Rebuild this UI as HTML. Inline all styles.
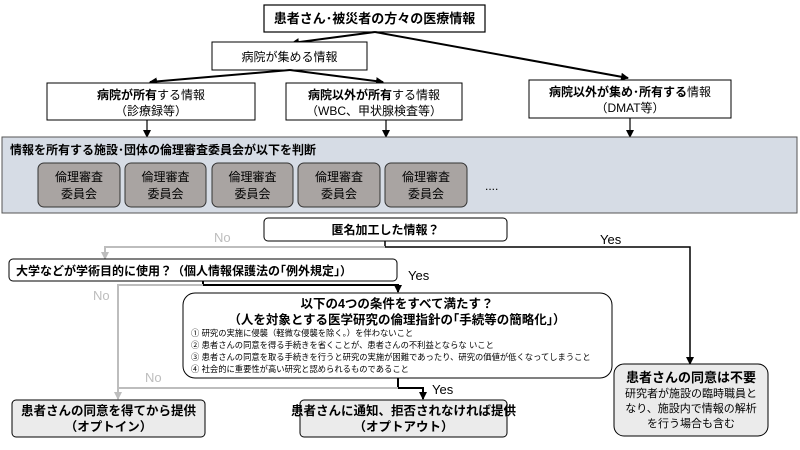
<!DOCTYPE html>
<html><head><meta charset="utf-8"><style>
body{margin:0;background:#fff}
svg{display:block}
text{font-family:"Liberation Sans","Noto Sans CJK JP",sans-serif;fill:#000}
.b{font-weight:bold}
</style></head><body>
<svg width="800" height="450" viewBox="0 0 800 450" xmlns="http://www.w3.org/2000/svg">
<defs>
<marker id="a" markerWidth="8" markerHeight="8" refX="7" refY="4" orient="auto" markerUnits="userSpaceOnUse"><path d="M0,0 L8,4 L0,8 z" fill="#000"/></marker>
<marker id="g" markerWidth="8" markerHeight="8" refX="7" refY="4" orient="auto" markerUnits="userSpaceOnUse"><path d="M0,0 L8,4 L0,8 z" fill="#bdbdbd"/></marker>
</defs>
<!-- top -->
<rect x="264" y="5" width="221" height="27" fill="#fff" stroke="#000" stroke-width="1.2"/>
<text x="374.5" y="23" font-size="13" class="b" text-anchor="middle">患者さん･被災者の方々の医療情報</text>
<line x1="375" y1="32" x2="292" y2="43" stroke="#000" stroke-width="2" marker-end="url(#a)"/>
<line x1="375" y1="32" x2="628" y2="78" stroke="#000" stroke-width="2" marker-end="url(#a)"/>
<rect x="212" y="42" width="155" height="28" fill="#fff" stroke="#000"/>
<text x="289.5" y="61" font-size="12" text-anchor="middle">病院が集める情報</text>
<line x1="290" y1="70" x2="150" y2="82" stroke="#000" stroke-width="2" marker-end="url(#a)"/>
<line x1="290" y1="70" x2="383" y2="82" stroke="#000" stroke-width="2" marker-end="url(#a)"/>
<rect x="47" y="83" width="208" height="37" fill="#fff" stroke="#000"/>
<text x="151" y="99" font-size="12" text-anchor="middle"><tspan class="b">病院が所有</tspan>する情報</text>
<text x="151" y="115" font-size="12" text-anchor="middle">（診療録等）</text>
<rect x="286" y="83" width="176" height="37" fill="#fff" stroke="#000"/>
<text x="374" y="99" font-size="12" text-anchor="middle"><tspan class="b">病院以外が所有</tspan>する情報</text>
<text x="374" y="115" font-size="12" text-anchor="middle">（WBC、甲状腺検査等）</text>
<rect x="529" y="80" width="202" height="38" fill="#fff" stroke="#000"/>
<text x="630" y="96" font-size="12" text-anchor="middle"><tspan class="b">病院以外が集め･所有する</tspan>情報</text>
<text x="630" y="112" font-size="12" text-anchor="middle">（DMAT等）</text>
<line x1="147" y1="120" x2="147" y2="137" stroke="#000" stroke-width="1.2" marker-end="url(#a)"/>
<line x1="386" y1="120" x2="386" y2="137" stroke="#000" stroke-width="1.2" marker-end="url(#a)"/>
<line x1="630" y1="118" x2="630" y2="137" stroke="#000" stroke-width="1.2" marker-end="url(#a)"/>
<!-- panel -->
<rect x="2" y="137" width="795" height="76" fill="#d6dce5" stroke="#555"/>
<text x="10" y="154" font-size="12" class="b">情報を所有する施設･団体の倫理審査委員会が以下を判断</text>
<g font-size="12">
<rect x="38" y="163" width="82" height="44" rx="6" fill="#a9a4a2" stroke="#333"/>
<text x="79" y="181" text-anchor="middle">倫理審査</text><text x="79" y="198" text-anchor="middle">委員会</text>
<rect x="125" y="163" width="81" height="44" rx="6" fill="#a9a4a2" stroke="#333"/>
<text x="165.5" y="181" text-anchor="middle">倫理審査</text><text x="165.5" y="198" text-anchor="middle">委員会</text>
<rect x="212" y="163" width="81" height="44" rx="6" fill="#a9a4a2" stroke="#333"/>
<text x="252.5" y="181" text-anchor="middle">倫理審査</text><text x="252.5" y="198" text-anchor="middle">委員会</text>
<rect x="298" y="163" width="82" height="44" rx="6" fill="#a9a4a2" stroke="#333"/>
<text x="339" y="181" text-anchor="middle">倫理審査</text><text x="339" y="198" text-anchor="middle">委員会</text>
<rect x="385" y="163" width="82" height="44" rx="6" fill="#a9a4a2" stroke="#333"/>
<text x="426" y="181" text-anchor="middle">倫理審査</text><text x="426" y="198" text-anchor="middle">委員会</text>
</g>
<text x="485" y="190" font-size="12">....</text>
<!-- anonymized -->
<rect x="264" y="218" width="243" height="23" rx="4" fill="#fff" stroke="#000"/>
<text x="385.5" y="234" font-size="12" class="b" text-anchor="middle">匿名加工した情報？</text>
<polyline points="385,241 385,247 690,247 690,364" fill="none" stroke="#000" stroke-width="1.5" marker-end="url(#a)"/>
<text x="600" y="244" font-size="13">Yes</text>
<polyline points="385,247 105,247 105,259" fill="none" stroke="#bdbdbd" stroke-width="2" marker-end="url(#g)"/>
<text x="214" y="242" font-size="13" fill="#bdbdbd" style="fill:#bdbdbd">No</text>
<!-- univ -->
<rect x="9" y="259" width="388" height="22" rx="4" fill="#fff" stroke="#000"/>
<text x="16" y="275" font-size="12" class="b">大学などが学術目的に使用？（個人情報保護法の｢例外規定｣）</text>
<polyline points="203,281 203,285 398,285 398,292" fill="none" stroke="#000" stroke-width="2" marker-end="url(#a)"/>
<text x="408" y="280" font-size="13">Yes</text>
<polyline points="203,285 118,285 118,399" fill="none" stroke="#bdbdbd" stroke-width="2" marker-end="url(#g)"/>
<text x="93" y="300" font-size="13" style="fill:#bdbdbd">No</text>
<!-- conditions -->
<rect x="183" y="293" width="429" height="85" rx="12" fill="#fff" stroke="#000"/>
<text x="397" y="308" font-size="12.5" class="b" text-anchor="middle">以下の4つの条件をすべて満たす？</text>
<text x="397" y="324" font-size="12.5" class="b" text-anchor="middle">（人を対象とする医学研究の倫理指針の｢手続等の簡略化｣）</text>
<g font-size="8.3">
<text x="191" y="336">① 研究の実施に侵襲（軽微な侵襲を除く。）を伴わないこと</text>
<text x="191" y="348">② 患者さんの同意を得る手続きを省くことが、患者さんの不利益とならな いこと</text>
<text x="191" y="360">③ 患者さんの同意を取る手続きを行うと研究の実施が困難であったり、研究の価値が低くなってしまうこと</text>
<text x="191" y="372">④ 社会的に重要性が高い研究と認められるものであること</text>
</g>
<polyline points="398,378 398,388 423,388 423,399" fill="none" stroke="#000" stroke-width="2" marker-end="url(#a)"/>
<text x="432" y="394" font-size="13">Yes</text>
<line x1="398" y1="388" x2="118" y2="388" stroke="#bdbdbd" stroke-width="2"/>
<text x="145" y="382" font-size="13" style="fill:#bdbdbd">No</text>
<!-- bottom -->
<rect x="12" y="400" width="193" height="37" rx="4" fill="#ebebeb" stroke="#000"/>
<text x="108.5" y="415" font-size="12.5" class="b" text-anchor="middle">患者さんの同意を得てから提供</text>
<text x="108.5" y="431" font-size="12.5" class="b" text-anchor="middle">（オプトイン）</text>
<rect x="300" y="400" width="207" height="37" rx="4" fill="#ebebeb" stroke="#000"/>
<text x="403.5" y="415" font-size="12.5" class="b" text-anchor="middle">患者さんに通知、拒否されなければ提供</text>
<text x="403.5" y="431" font-size="12.5" class="b" text-anchor="middle">（オプトアウト）</text>
<rect x="614" y="364" width="154" height="72" rx="10" fill="#ebebeb" stroke="#000"/>
<text x="691" y="382" font-size="13" class="b" text-anchor="middle">患者さんの同意は不要</text>
<g font-size="11" text-anchor="middle">
<text x="691" y="397">研究者が施設の臨時職員と</text>
<text x="691" y="412">なり、施設内で情報の解析</text>
<text x="691" y="427">を行う場合も含む</text>
</g>
</svg>
</body></html>
